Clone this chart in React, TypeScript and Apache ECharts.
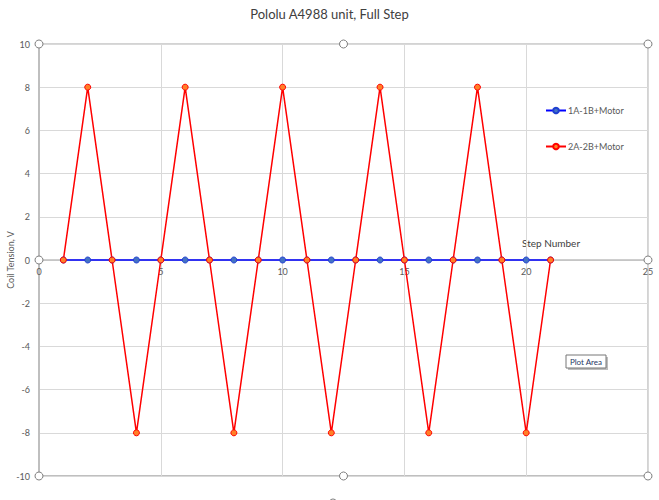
import React, { useEffect, useRef } from "react";
import * as echarts from "echarts";

const titleText = "Pololu A4988 unit, Full Step";
const steps = [1, 2, 3, 4, 5, 6, 7, 8, 9, 10, 11, 12, 13, 14, 15, 16, 17, 18, 19, 20, 21];
const coil1 = [0, 0, 0, 0, 0, 0, 0, 0, 0, 0, 0, 0, 0, 0, 0, 0, 0, 0, 0, 0, 0];
const coil2 = [0, 8, 0, -8, 0, 8, 0, -8, 0, 8, 0, -8, 0, 8, 0, -8, 0, 8, 0, -8, 0];
const seriesNames = ["1A-1B+Motor", "2A-2B+Motor"];

const FONT = "Lato, 'Open Sans', sans-serif";

export default function App() {
  const ref = useRef<HTMLDivElement>(null);
  useEffect(() => {
    if (!ref.current) return;
    const chart = echarts.init(ref.current, undefined, { renderer: "svg" });
    const L = 39, R = 648, T = 44, B = 476;
    const midX = (L + R) / 2;
    const midY = (T + B) / 2;
    const handles = [
      [L, T], [midX, T], [R, T],
      [L, midY], [R, midY],
      [L, B], [midX, B], [R, B],
      [333, 503],
    ];
    chart.setOption({
      animation: false,
      textStyle: { fontFamily: FONT },
      title: {
        text: titleText,
        left: "center",
        top: 2,
        textStyle: { fontFamily: FONT, fontSize: 13, fontWeight: "normal", color: "#404040" },
      },
      grid: {
        left: L, right: 659 - R, top: T, bottom: 500 - B,
        containLabel: false,
        outerBoundsMode: "none",
        show: true, borderColor: "#a6a6a6", borderWidth: 1,
      },
      legend: {
        orient: "vertical",
        left: 540,
        top: 101,
        itemGap: 27,
        itemWidth: 20,
        itemHeight: 7,
        data: seriesNames,
        textStyle: { fontFamily: FONT, fontSize: 9, color: "#595959", padding: [0, 0, 0, -3] },
      },
      xAxis: {
        type: "value",
        min: 0, max: 25, interval: 5,
        position: "bottom",
        offset: -(B - midY),
        axisLine: { onZero: false, lineStyle: { color: "#bfbfbf", width: 1.5 } },
        axisTick: { show: false },
        axisLabel: { fontFamily: FONT, fontSize: 9, color: "#595959", margin: 7 },
        splitLine: { show: true, lineStyle: { color: "#d9d9d9", width: 1 } },
      },
      yAxis: {
        type: "value",
        min: -10, max: 10, interval: 2,
        axisLine: { show: true, onZero: false, lineStyle: { color: "#bfbfbf", width: 2 } },
        axisTick: { show: false },
        axisLabel: { fontFamily: FONT, fontSize: 9, color: "#595959", margin: 9 },
        splitLine: { show: true, lineStyle: { color: "#d9d9d9", width: 1 } },
      },
      series: [
        {
          name: seriesNames[0],
          type: "line",
          data: steps.map((s, i) => [s, coil1[i]]),
          symbol: "circle",
          symbolSize: 6,
          lineStyle: { color: "#0000ff", width: 1.5 },
          itemStyle: { color: "#4472c4", borderColor: "#1f3fd0", borderWidth: 1 },
        },
        {
          name: seriesNames[1],
          type: "line",
          data: steps.map((s, i) => [s, coil2[i]]),
          symbol: "circle",
          symbolSize: 6,
          lineStyle: { color: "#ff0000", width: 1.5 },
          itemStyle: { color: "#ff7f27", borderColor: "#ff0000", borderWidth: 1 },
        },
      ],
      graphic: [
        {
          type: "text",
          x: 10, y: 260,
          rotation: Math.PI / 2,
          style: { text: "Coil Tension, V", font: `9px ${FONT}`, fill: "#595959", align: "center", verticalAlign: "middle" },
        },
        {
          type: "text",
          x: 551, y: 243,
          style: { text: "Step Number", font: `10px ${FONT}`, fill: "#404040", align: "center", verticalAlign: "middle" },
        },
        {
          type: "line",
          shape: { x1: L, y1: B, x2: R, y2: B },
          style: { stroke: "#bfbfbf", lineWidth: 2 },
        },
        {
          type: "group",
          x: 566, y: 355,
          children: [
            { type: "rect", shape: { x: 2, y: 2, width: 40, height: 13 }, style: { fill: "#bdbdbd" } },
            { type: "rect", shape: { x: 0, y: 0, width: 40, height: 13 }, style: { fill: "#ffffff", stroke: "#767676", lineWidth: 1 } },
            { type: "text", x: 20, y: 6.5, style: { text: "Plot Area", font: `8px ${FONT}`, fill: "#1f3864", align: "center", verticalAlign: "middle" } },
          ],
        },
        ...handles.map(([x, y]) => ({
          type: "circle",
          shape: { cx: x, cy: y, r: 4 },
          style: { fill: "#ffffff", stroke: "#7f7f7f", lineWidth: 1 },
          z: 100,
        })),
      ],
    });
    return () => chart.dispose();
  }, []);
  return <div ref={ref} style={{ width: 659, height: 500, position: "absolute", left: 0, top: 0 }} />;
}
